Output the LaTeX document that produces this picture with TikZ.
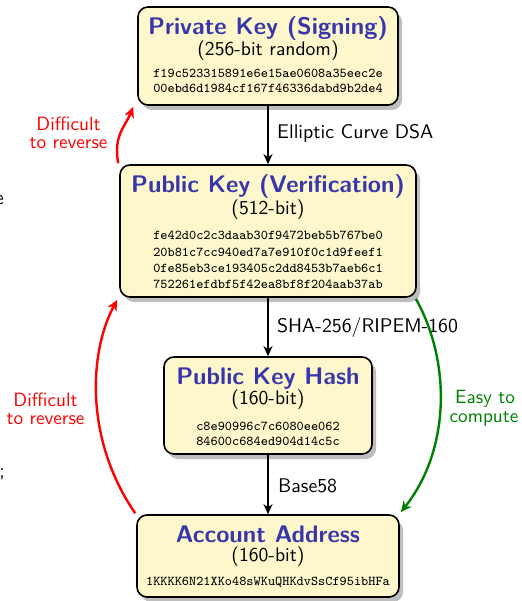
\documentclass[tikz,border=0pt]{standalone}
\usepackage{fontspec}
\usetikzlibrary{shadows,arrows.meta,calc}
\definecolor{titleblue}{RGB}{55,55,170}
\definecolor{boxfill}{RGB}{255,247,204}
\definecolor{easygreen}{RGB}{0,128,0}
\definecolor{shadowgray}{RGB}{190,190,190}
\newcommand{\dbl}[1]{\scalebox{2}{#1}}
\begin{document}
\begin{tikzpicture}[x=1pt,y=-1pt,
  keybox/.style={draw=black, line width=1.6pt, fill=boxfill, rounded corners=10pt,
    drop shadow={shadow xshift=4pt, shadow yshift=-5pt, fill=shadowgray, opacity=1},
    inner sep=0pt},
  ttl/.style={anchor=base, inner sep=0pt, text=titleblue, font=\sffamily\bfseries\fontsize{12}{14}\selectfont},
  sub/.style={anchor=base, inner sep=0pt, font=\sffamily\fontsize{9.8}{12}\selectfont},
  hex/.style={anchor=base, inner sep=0pt, font=\ttfamily\fontsize{6.75}{8}\selectfont},
  lbl/.style={anchor=base west, inner sep=0pt, font=\sffamily\fontsize{9.9}{12}\selectfont},
  note/.style={anchor=base, inner sep=0pt, font=\sffamily\fontsize{9.6}{12}\selectfont},
  flow/.style={draw=black, line width=1.4pt, -{Stealth[length=10pt,width=9pt,inset=3pt]}},
  hard/.style={draw=red, line width=2.4pt, -{Stealth[length=11pt,width=10pt,inset=3.5pt]}},
  easy/.style={draw=easygreen, line width=2.4pt, -{Stealth[length=11pt,width=10pt,inset=3.5pt]}}
]
\useasboundingbox (0,0) rectangle (521,601);

% boxes
\node[keybox, minimum width=260pt, minimum height=98pt] (priv) at (268,56) {};
\node[keybox, minimum width=296pt, minimum height=132pt] (pub) at (268,231) {};
\node[keybox, minimum width=208pt, minimum height=97pt] (hash) at (268,405.5) {};
\node[keybox, minimum width=262pt, minimum height=82pt] (acc) at (268,556) {};

% private key text
\node[ttl] (privT) at (268,35) {\dbl{Private Key (Signing)}};
\node[sub] (privS) at (268,56) {\dbl{(256-bit random)}};
\node[hex] (privH1) at (268,78) {\dbl{f19c523315891e6e15ae0608a35eec2e}};
\node[hex] (privH2) at (268,93) {\dbl{00ebd6d1984cf167f46336dabd9b2de4}};

% public key text
\node[ttl] (pubT) at (268,193) {\dbl{Public Key (Verification)}};
\node[sub] (pubS) at (268,215) {\dbl{(512-bit)}};
\node[hex] (pubH1) at (268,240) {\dbl{fe42d0c2c3daab30f9472beb5b767be0}};
\node[hex] (pubH2) at (268,256) {\dbl{20b81c7cc940ed7a7e910f0c1d9feef1}};
\node[hex] (pubH3) at (268,272.5) {\dbl{0fe85eb3ce193405c2dd8453b7aeb6c1}};
\node[hex] (pubH4) at (268,288) {\dbl{752261efdbf5f42ea8bf8f204aab37ab}};

% hash text
\node[ttl] (hashT) at (268,384) {\dbl{Public Key Hash}};
\node[sub] (hashS) at (268,404) {\dbl{(160-bit)}};
\node[hex] (hashH1) at (268,430) {\dbl{c8e90996c7c6080ee062}};
\node[hex] (hashH2) at (268,445) {\dbl{84600c684ed904d14c5c}};

% account text
\node[ttl] (accT) at (268,542) {\dbl{Account Address}};
\node[sub] (accS) at (268,561) {\dbl{(160-bit)}};
\node[hex] (accH) at (268,585) {\dbl{1KKKK6N21XKo48sWKuQHKdvSsCf95ibHFa}};

% straight connectors
\draw[flow] (priv) -- (pub);
\draw[flow] (pub) -- (hash);
\draw[flow] (hash) -- (acc);
\node[lbl] (l1) at (277,139) {\dbl{Elliptic Curve DSA}};
\node[lbl] (l2) at (277,332) {\dbl{SHA-256/RIPEM-160}};
\node[lbl] (l3) at (278,492) {\dbl{Base58}};

% curved connectors
\draw[hard] ($(pub.north west)+(-1,-1)$) .. controls +(-5,-28) and +(-8,20) .. ($(priv.south west)+(-4,1)$);
\draw[hard] ($(acc.north west)+(-1,-1)$) .. controls +(-51,-74) and +(-28,52) .. ($(pub.south west)+(-2,2)$);
\draw[easy] ($(pub.south east)+(-1,1)$) .. controls +(35,62) and +(50,-63) .. ($(acc.north east)+(1,-2)$);

\node[note, text=red] (n1a) at (68.5,131) {\dbl{Difficult}};
\node[note, text=red] (n1b) at (68.5,149) {\dbl{to reverse}};
\node[note, text=red] (n2a) at (45.5,406) {\dbl{Difficult}};
\node[note, text=red] (n2b) at (45.5,424) {\dbl{to reverse}};
\node[note, text=easygreen] (n3a) at (485,403) {\dbl{Easy to}};
\node[note, text=easygreen] (n3b) at (484,422) {\dbl{compute}};

% fragments of cut-off text at the left edge
\node[anchor=base east, inner sep=0pt, font=\sffamily\fontsize{9.9}{12}\selectfont] (fragA) at (4,205) {\dbl{e}};
\node[anchor=base east, inner sep=0pt, font=\sffamily\fontsize{9.9}{12}\selectfont] (fragB) at (5,477) {\dbl{;}};
\end{tikzpicture}
\end{document}
